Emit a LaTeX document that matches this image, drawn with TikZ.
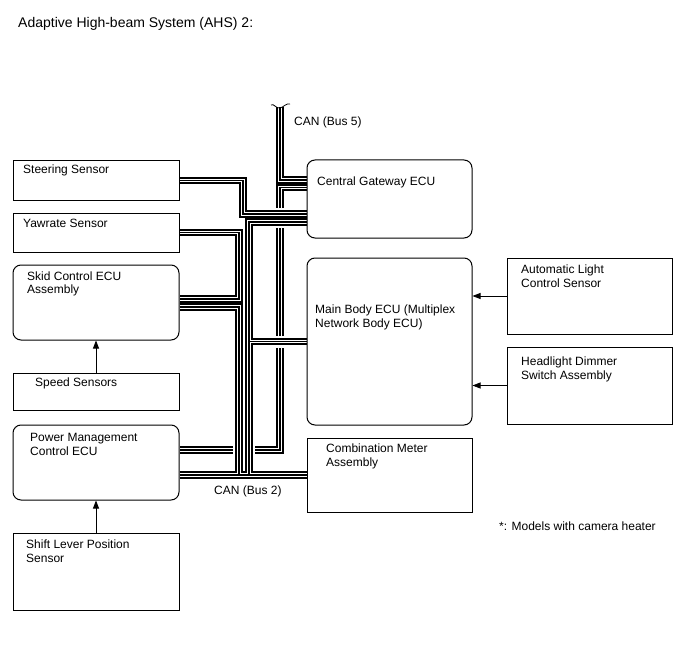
\documentclass[tikz,border=0pt]{standalone}
\usepackage{fontspec}
\setmainfont{Liberation Sans}
\usetikzlibrary{arrows.meta,backgrounds}

\tikzset{
  box/.style={draw, line width=1pt, minimum width=166pt, inner sep=0pt},
  ecu/.style={box, rounded corners=8pt},
  txt/.style={anchor=north west, inner sep=0pt, align=left, font=\fontsize{12}{13.6}\selectfont},
  sig/.style={line width=0.8pt, -{Triangle[length=8pt,width=6pt]}},
  bus/.style={line width=7.6pt, postaction={draw=white, line width=3.2pt}, postaction={draw=black, line width=1.1pt}},
  bushalo/.style={bus, preaction={draw=white, line width=12pt}},
}

\begin{document}
\begin{tikzpicture}[x=1pt, y=-1pt]
  \useasboundingbox (0,0) rectangle (688,658);

  % left column
  \node[box, minimum height=39pt] (steer) at (96,180.5) {};
  \node[box, minimum height=39pt] (ywr) at (96,232.5) {};
  \node[ecu, minimum height=75pt] (skid) at (96,302.5) {};
  \node[box, minimum height=37pt] (speed) at (96,391.5) {};
  \node[ecu, minimum height=75pt] (pmc) at (96,462.5) {};
  \node[box, minimum height=77pt] (shift) at (96,571.5) {};

  % middle column
  \node[ecu, minimum width=165pt, minimum height=78pt] (gw) at (389.5,199) {};
  \node[ecu, minimum width=165pt, minimum height=167pt] (mb) at (389.5,341.5) {};
  \node[box, minimum width=165pt, minimum height=74pt] (cm) at (389.5,475) {};

  % right column
  \node[box, minimum width=165pt, minimum height=76pt] (alcs) at (589.5,296) {};
  \node[box, minimum width=165pt, minimum height=77pt] (hdsa) at (589.5,385.5) {};

  % texts
  \node[txt, font=\fontsize{14}{16}\selectfont] (title) at (18,17) {Adaptive High-beam System (AHS) 2:};
  \node[txt] (steertxt) at (23,165) {Steering Sensor};
  \node[txt] (ywrtxt) at (23,219) {Yawrate Sensor};
  \node[txt] (skidtxt) at (27,271.5) {Skid Control ECU\\Assembly};
  \node[txt] (speedtxt) at (35,378) {Speed Sensors};
  \node[txt] (pmctxt) at (30,433) {Power Management\\Control ECU};
  \node[txt] (shifttxt) at (26,540) {Shift Lever Position\\Sensor};
  \node[txt] (gwtxt) at (317,177) {Central Gateway ECU};
  \node[txt] (mbtxt) at (315,305) {Main Body ECU (Multiplex\\Network Body ECU)};
  \node[txt] (cmtxt) at (326,444) {Combination Meter\\Assembly};
  \node[txt] (alcstxt) at (521,265) {Automatic Light\\Control Sensor};
  \node[txt] (hdsatxt) at (521,357) {Headlight Dimmer\\Switch Assembly};
  \node[txt] (bus5txt) at (294,117) {CAN (Bus 5)};
  \node[txt] (bus2txt) at (214,486) {CAN (Bus 2)};
  \node[txt] (notetxt) at (499,522) {*: Models with camera heater};

  % signal lines
  \draw[sig] (speed.north) -- (skid.south);
  \draw[sig] (shift.north) -- (pmc.south);
  \draw[sig] (alcs.west) -- (alcs.west -| mb.east);
  \draw[sig] (hdsa.west) -- (hdsa.west -| mb.east);

  % bus end points and drops
  \coordinate (b5) at (280,107);
  \coordinate (xs) at (243,0);
  \coordinate (xa) at (239,0);
  \coordinate (xb) at (249,0);
  \coordinate (xx) at (280,0);
  \coordinate (gw5) at ([yshift=19pt]gw.west);
  \coordinate (gwx) at ([yshift=11.5pt]gw.west);
  \coordinate (gwa) at ([yshift=-15pt]gw.west);
  \coordinate (gwb) at ([yshift=-23pt]gw.west);
  \coordinate (sk1) at ([yshift=3.5pt]skid.east);
  \coordinate (sk2) at ([yshift=-4.5pt]skid.east);
  \coordinate (pm1) at ([yshift=12.5pt]pmc.east);
  \coordinate (pm2) at ([yshift=-12.5pt]pmc.east);

  \begin{scope}[on background layer]
    % CAN (Bus 5)
    \draw[bus] (b5) |- (gw5);
    \draw[line width=0.8pt] (271,105) .. controls (274,103) and (276,109) .. (280,108)
      .. controls (284,107) and (286,103) .. (290,104);
    % gateway to power management
    \draw[bus] (gwx) -| (xx |- pm1) -- (pm1);
    % CAN (Bus 2)
    \draw[bushalo] (steer.east) -| (xs |- gwa) -- (gwa)
      (gwb) -| (xb |- cm.west)
      (xb |- mb.west) -- (mb.west)
      (ywr.east) -| (xa |- sk1) -- (sk1)
      (sk2) -| (xa |- cm.west)
      (pm2) -- (cm.west);
  \end{scope}
\end{tikzpicture}
\end{document}
